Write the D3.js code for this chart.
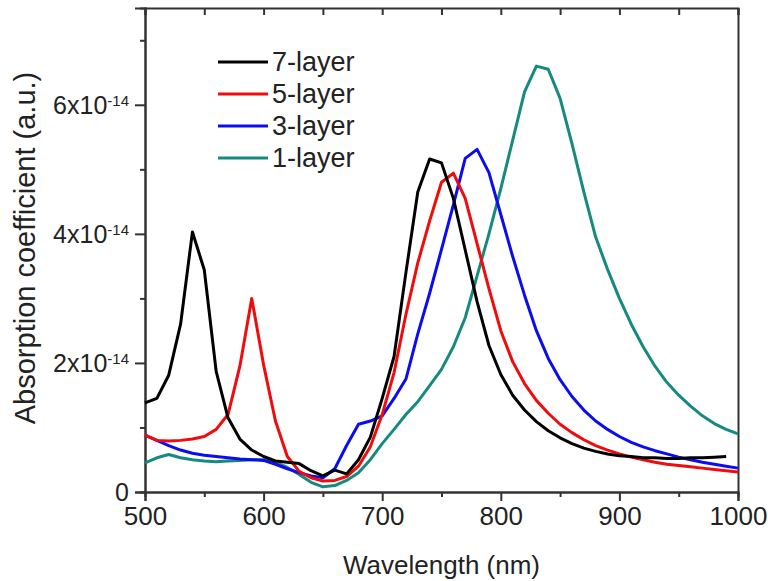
<!DOCTYPE html>
<html>
<head>
<meta charset="utf-8">
<script src="https://cdn.jsdelivr.net/npm/d3@7"></script>
<style>
  body { margin: 0; background: #fff; }
  text { font-family: "Liberation Sans", Arial, sans-serif; fill: #222; }
</style>
</head>
<body>
<div id="chart"></div>
<script>
// wavelength samples (nm), every 10 nm
var wavelengths = d3.range(500, 1001, 10);

// absorption coefficient in units of 1e-14
var layer7 = [1.38, 1.45, 1.81, 2.6, 4.03, 3.44, 1.87, 1.15, 0.82, 0.65, 0.55, 0.48, 0.46, 0.44, 0.33, 0.25, 0.34, 0.28, 0.5, 0.85,
  1.45, 2.1, 3.4, 4.65, 5.16, 5.1, 4.55, 3.75, 2.95, 2.27, 1.82, 1.5, 1.27, 1.09, 0.95, 0.84, 0.75, 0.68, 0.63, 0.59,
  0.56, 0.55, 0.53, 0.53, 0.52, 0.52, 0.53, 0.53, 0.54, 0.55];
var layer5 = [0.88, 0.8, 0.79, 0.8, 0.82, 0.86, 0.97, 1.2, 1.95, 3.0, 1.97, 1.1, 0.55, 0.32, 0.22, 0.17, 0.18, 0.24, 0.4, 0.7,
  1.2, 1.85, 2.75, 3.55, 4.2, 4.8, 4.94, 4.55, 3.85, 3.15, 2.5, 2.02, 1.68, 1.42, 1.22, 1.05, 0.92, 0.81, 0.72, 0.65,
  0.59, 0.54, 0.5, 0.46, 0.43, 0.41, 0.39, 0.37, 0.35, 0.33, 0.31];
var layer3 = [0.88, 0.8, 0.72, 0.65, 0.6, 0.57, 0.55, 0.53, 0.51, 0.5, 0.49, 0.43, 0.36, 0.3, 0.25, 0.22, 0.36, 0.72, 1.05, 1.1,
  1.18, 1.45, 1.75, 2.45, 3.08, 3.76, 4.45, 5.17, 5.31, 4.95, 4.3, 3.65, 3.05, 2.5, 2.07, 1.74, 1.48, 1.27, 1.1, 0.97,
  0.86, 0.77, 0.7, 0.64, 0.59, 0.54, 0.5, 0.46, 0.43, 0.4, 0.37];
var layer1 = [0.45, 0.53, 0.58, 0.53, 0.5, 0.48, 0.47, 0.48, 0.49, 0.5, 0.5, 0.46, 0.38, 0.27, 0.15, 0.08, 0.1, 0.18, 0.3, 0.5,
  0.75, 0.97, 1.2, 1.4, 1.65, 1.9, 2.25, 2.7, 3.35, 4.0, 4.7, 5.45, 6.2, 6.6, 6.55, 6.1, 5.4, 4.65, 3.95, 3.45,
  3.0, 2.6, 2.25, 1.95, 1.7, 1.5, 1.33, 1.18, 1.06, 0.97, 0.9];

var seriesNames = ["7-layer", "5-layer", "3-layer", "1-layer"];
var seriesColors = ["#000000", "#f00c0c", "#0c0cf0", "#168a80"];
var seriesValues = [layer7, layer5, layer3, layer1];

var xMajor = [500, 600, 700, 800, 900, 1000];
var yMajor = [0, 2, 4, 6];
var yMinor = [1, 3, 5, 7];

var margin = {top: 8, right: 30, bottom: 89, left: 145};
var W = 768, H = 581;
var width = W - margin.left - margin.right;
var height = H - margin.top - margin.bottom;

var svg = d3.select("#chart").append("svg")
    .attr("width", W)
    .attr("height", H)
  .append("g")
    .attr("transform", "translate(" + margin.left + "," + margin.top + ")");

var x = d3.scaleLinear().domain([500, 1000]).range([0, width]);
var y = d3.scaleLinear().domain([0, 7.5]).range([height, 0]);

var axisColor = "#333";

// bottom axis: major + minor ticks outward
var bottom = svg.append("g")
    .attr("transform", "translate(0," + height + ")")
    .call(d3.axisBottom(x).tickValues(xMajor).tickSize(9).tickPadding(6).tickFormat(d3.format("d")));
svg.append("g")
    .attr("transform", "translate(0," + height + ")")
    .call(d3.axisBottom(x).tickValues(d3.range(550, 1000, 100)).tickSize(5).tickFormat(""));

// top axis: ticks inward
svg.append("g")
    .call(d3.axisBottom(x).tickValues(d3.range(500, 1001, 50)).tickSize(7).tickFormat(""));

// left axis
var left = svg.append("g")
    .call(d3.axisLeft(y).tickValues(yMajor).tickSize(10).tickPadding(6).tickFormat(""));
svg.append("g")
    .call(d3.axisLeft(y).tickValues(yMinor).tickSize(5).tickFormat(""));

// right axis line only
svg.append("g")
    .attr("transform", "translate(" + width + ",0)")
    .call(d3.axisRight(y).tickValues([]).tickSizeOuter(0));

svg.selectAll(".domain").attr("stroke", axisColor).attr("stroke-width", 2);
svg.selectAll(".tick line").attr("stroke", axisColor).attr("stroke-width", 2);

bottom.selectAll(".tick text")
    .style("font-size", "26px")
    .attr("fill", "#222");

// y tick labels with superscript exponent
left.selectAll(".tick").each(function(d) {
  var t = d3.select(this).append("text")
      .attr("x", -16)
      .attr("dy", "0.35em")
      .attr("text-anchor", "end")
      .style("font-size", "25px");
  if (d === 0) {
    t.text("0");
  } else {
    t.append("tspan").text(d + "x10");
    t.append("tspan")
        .attr("dy", "-0.55em")
        .style("font-size", "15px")
        .text("-14");
  }
});

// x axis title
svg.append("text")
    .attr("x", width / 2)
    .attr("y", height + 82)
    .attr("text-anchor", "middle")
    .style("font-size", "26px")
    .text("Wavelength (nm)");

// y axis title
svg.append("text")
    .attr("transform", "rotate(-90)")
    .attr("x", -height / 2 + 2)
    .attr("y", -margin.left + 35)
    .attr("text-anchor", "middle")
    .style("font-size", "29px")
    .text("Absorption coefficient (a.u.)");

var line = d3.line()
    .x(function(d) { return x(d[0]); })
    .y(function(d) { return y(d[1]); });

// draw 1-layer first so the others sit above it
for (var i = seriesNames.length - 1; i >= 0; i--) {
  var pts = seriesValues[i].map(function(v, k) { return [wavelengths[k], v]; });
  svg.append("path")
      .datum(pts)
      .attr("fill", "none")
      .attr("stroke", seriesColors[i])
      .attr("stroke-width", 3)
      .attr("stroke-linejoin", "round")
      .attr("d", line);
}

// legend
var legend = svg.selectAll(".legend")
    .data(seriesNames)
  .enter().append("g")
    .attr("class", "legend")
    .attr("transform", function(d, i) { return "translate(73," + (54 + i * 32) + ")"; });

legend.append("line")
    .attr("x1", 0)
    .attr("x2", 50)
    .attr("stroke", function(d, i) { return seriesColors[i]; })
    .attr("stroke-width", 3);

legend.append("text")
    .attr("x", 54)
    .attr("dy", "0.35em")
    .style("font-size", "27px")
    .text(function(d) { return d; });
</script>
</body>
</html>
